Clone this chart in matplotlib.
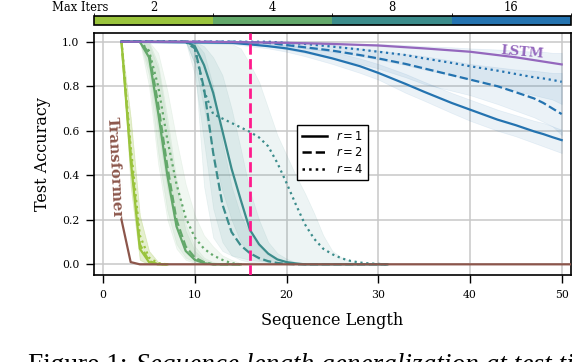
import matplotlib
matplotlib.use("Agg")
from matplotlib import pyplot as plt
from matplotlib.colors import ListedColormap, BoundaryNorm
from matplotlib.cm import ScalarMappable
from matplotlib.lines import Line2D
import numpy as np

# max iterations -> colour
max_iters = ['2', '4', '8', '16']
iter_colors = ['#9ac43c', '#63a86a', '#3b8c8b', '#2473b0']

# ---- data: (x, y, lo, hi) per (max_iters, r) ----
x_2 = [2, 3, 4, 5, 6, 7]
y_2_r1 = [1.0, 0.47, 0.07, 0.01, 0.0, 0.0]
y_2_r2 = [1.0, 0.50, 0.09, 0.015, 0.0, 0.0]
y_2_r4 = [1.0, 0.53, 0.13, 0.03, 0.005, 0.0]
lo_2 = [1.0, 0.35, 0.02, 0.0, 0.0, 0.0]
hi_2 = [1.0, 0.66, 0.22, 0.06, 0.01, 0.0]

x_4 = [2, 3, 4, 5, 6, 7, 8, 9, 10, 11, 12, 13, 14, 15]
y_4_r1 = [1.0, 1.0, 1.0, 0.93, 0.68, 0.40, 0.17, 0.06, 0.02, 0.005, 0.0, 0.0, 0.0, 0.0]
lo_4_r1 = [1.0, 1.0, 1.0, 0.80, 0.45, 0.20, 0.07, 0.02, 0.005, 0.0, 0.0, 0.0, 0.0, 0.0]
hi_4_r1 = [1.0, 1.0, 1.0, 0.99, 0.88, 0.62, 0.34, 0.15, 0.06, 0.02, 0.005, 0.0, 0.0, 0.0]
y_4_r2 = [1.0, 1.0, 1.0, 0.95, 0.72, 0.44, 0.20, 0.08, 0.03, 0.01, 0.0, 0.0, 0.0, 0.0]
lo_4_r2 = [1.0, 1.0, 1.0, 0.85, 0.50, 0.24, 0.09, 0.03, 0.01, 0.0, 0.0, 0.0, 0.0, 0.0]
hi_4_r2 = [1.0, 1.0, 1.0, 1.0, 0.90, 0.66, 0.38, 0.18, 0.08, 0.03, 0.01, 0.0, 0.0, 0.0]
y_4_r4 = [1.0, 1.0, 1.0, 0.96, 0.80, 0.56, 0.36, 0.21, 0.12, 0.07, 0.04, 0.02, 0.005, 0.0]
lo_4_r4 = [1.0, 1.0, 1.0, 0.88, 0.60, 0.34, 0.18, 0.09, 0.04, 0.02, 0.01, 0.005, 0.0, 0.0]
hi_4_r4 = [1.0, 1.0, 1.0, 1.0, 0.95, 0.78, 0.56, 0.36, 0.22, 0.13, 0.08, 0.04, 0.02, 0.005]

x_8 = [2, 9, 10, 11, 12, 13, 14, 15, 16, 17, 18, 19, 20, 21, 22, 23, 24, 25, 26, 27, 28, 29, 30, 31]
y_8_r1 = [1.0, 1.0, 0.98, 0.895, 0.77, 0.60, 0.43, 0.29, 0.155, 0.09, 0.048, 0.022, 0.01, 0.004,
          0.0, 0.0, 0.0, 0.0, 0.0, 0.0, 0.0, 0.0, 0.0, 0.0]
lo_8_r1 = [1.0, 1.0, 0.90, 0.70, 0.50, 0.33, 0.20, 0.10, 0.05, 0.02, 0.01, 0.0, 0.0, 0.0,
           0.0, 0.0, 0.0, 0.0, 0.0, 0.0, 0.0, 0.0, 0.0, 0.0]
hi_8_r1 = [1.0, 1.0, 1.0, 0.98, 0.93, 0.85, 0.70, 0.52, 0.33, 0.20, 0.10, 0.05, 0.025, 0.01,
           0.0, 0.0, 0.0, 0.0, 0.0, 0.0, 0.0, 0.0, 0.0, 0.0]
y_8_r2 = [1.0, 1.0, 0.97, 0.79, 0.50, 0.27, 0.145, 0.085, 0.05, 0.028, 0.014, 0.006, 0.002, 0.0,
          0.0, 0.0, 0.0, 0.0, 0.0, 0.0, 0.0, 0.0, 0.0, 0.0]
lo_8_r2 = [1.0, 1.0, 0.85, 0.55, 0.25, 0.10, 0.04, 0.02, 0.01, 0.005, 0.0, 0.0, 0.0, 0.0,
           0.0, 0.0, 0.0, 0.0, 0.0, 0.0, 0.0, 0.0, 0.0, 0.0]
hi_8_r2 = [1.0, 1.0, 1.0, 0.95, 0.80, 0.55, 0.35, 0.22, 0.14, 0.08, 0.04, 0.02, 0.01, 0.0,
           0.0, 0.0, 0.0, 0.0, 0.0, 0.0, 0.0, 0.0, 0.0, 0.0]
y_8_r4 = [1.0, 1.0, 0.97, 0.78, 0.675, 0.655, 0.635, 0.615, 0.595, 0.57, 0.53, 0.455, 0.365, 0.27,
          0.18, 0.115, 0.07, 0.045, 0.027, 0.015, 0.008, 0.004, 0.002, 0.0]
lo_8_r4 = [1.0, 1.0, 0.90, 0.35, 0.12, 0.06, 0.04, 0.03, 0.02, 0.015, 0.01, 0.005, 0.0, 0.0,
           0.0, 0.0, 0.0, 0.0, 0.0, 0.0, 0.0, 0.0, 0.0, 0.0]
hi_8_r4 = [1.0, 1.0, 1.0, 1.0, 1.0, 1.0, 0.99, 0.97, 0.90, 0.82, 0.70, 0.58, 0.49, 0.40,
           0.32, 0.23, 0.13, 0.06, 0.03, 0.015, 0.0, 0.0, 0.0, 0.0]

x_16 = [2, 14, 16, 18, 20, 22, 25, 28, 30, 33, 35, 38, 40, 43, 45, 47, 48, 49, 50]
y_16_r1 = [1.0, 0.995, 0.988, 0.98, 0.97, 0.955, 0.925, 0.89, 0.86, 0.81, 0.775, 0.725, 0.695,
           0.65, 0.625, 0.597, 0.585, 0.571, 0.558]
lo_16_r1 = [1.0, 0.99, 0.98, 0.97, 0.955, 0.935, 0.9, 0.86, 0.83, 0.77, 0.735, 0.68, 0.645,
            0.6, 0.575, 0.545, 0.53, 0.515, 0.50]
hi_16_r1 = [1.0, 1.0, 0.995, 0.99, 0.985, 0.975, 0.955, 0.925, 0.9, 0.855, 0.82, 0.77, 0.74,
            0.695, 0.67, 0.645, 0.635, 0.62, 0.605]
y_16_r2 = [1.0, 1.0, 0.998, 0.995, 0.985, 0.975, 0.96, 0.94, 0.925, 0.9, 0.88, 0.85, 0.83,
           0.8, 0.773, 0.745, 0.725, 0.70, 0.675]
lo_16_r2 = [1.0, 1.0, 0.99, 0.98, 0.965, 0.95, 0.925, 0.9, 0.88, 0.84, 0.81, 0.78, 0.76,
            0.72, 0.69, 0.66, 0.64, 0.62, 0.58]
hi_16_r2 = [1.0, 1.0, 1.0, 1.0, 0.995, 0.99, 0.985, 0.97, 0.96, 0.945, 0.935, 0.915, 0.9,
            0.885, 0.875, 0.87, 0.865, 0.86, 0.86]
y_16_r4 = [1.0, 1.0, 1.0, 1.0, 0.995, 0.99, 0.978, 0.965, 0.955, 0.94, 0.925, 0.905, 0.89,
           0.87, 0.855, 0.84, 0.835, 0.828, 0.82]
lo_16_r4 = [1.0, 1.0, 0.995, 0.99, 0.98, 0.97, 0.955, 0.935, 0.92, 0.895, 0.875, 0.85, 0.83,
            0.8, 0.78, 0.76, 0.75, 0.74, 0.72]
hi_16_r4 = [1.0, 1.0, 1.0, 1.0, 1.0, 1.0, 0.995, 0.99, 0.99, 0.985, 0.98, 0.975, 0.97,
            0.965, 0.96, 0.955, 0.955, 0.95, 0.95]

x_lstm = [2, 10, 15, 20, 25, 30, 35, 40, 45, 50]
y_lstm = [1.0, 1.0, 0.998, 0.995, 0.99, 0.983, 0.97, 0.955, 0.93, 0.898]

x_tf = [2, 3, 4, 10, 20, 30, 40, 50, 53]
y_tf = [0.20, 0.01, 0.0, 0.0, 0.0, 0.0, 0.0, 0.0, 0.0]

train_len = 16

runs = [
    (0, x_2, y_2_r1, lo_2, hi_2, '-'),
    (0, x_2, y_2_r2, lo_2, hi_2, '--'),
    (0, x_2, y_2_r4, lo_2, hi_2, ':'),
    (1, x_4, y_4_r1, lo_4_r1, hi_4_r1, '-'),
    (1, x_4, y_4_r2, lo_4_r2, hi_4_r2, '--'),
    (1, x_4, y_4_r4, lo_4_r4, hi_4_r4, ':'),
    (2, x_8, y_8_r1, lo_8_r1, hi_8_r1, '-'),
    (2, x_8, y_8_r2, lo_8_r2, hi_8_r2, '--'),
    (2, x_8, y_8_r4, lo_8_r4, hi_8_r4, ':'),
    (3, x_16, y_16_r1, lo_16_r1, hi_16_r1, '-'),
    (3, x_16, y_16_r2, lo_16_r2, hi_16_r2, '--'),
    (3, x_16, y_16_r4, lo_16_r4, hi_16_r4, ':'),
]

plt.rcParams['font.family'] = 'DejaVu Serif'
plt.rcParams['mathtext.fontset'] = 'dejavusans'

fig = plt.figure(figsize=(5.72, 3.62), dpi=100)
ax = fig.add_axes([0.1643, 0.2403, 0.8337, 0.6672])
cax = fig.add_axes([0.1643, 0.9296, 0.8337, 0.0251])

ax.grid(True, color='#c8c8c8', linewidth=1.1, zorder=0)
ax.set_axisbelow(True)

for ci, xs, ys, lo, hi, ls in runs:
    ax.fill_between(xs, lo, hi, color=iter_colors[ci], alpha=0.09, linewidth=0.5, zorder=1)
for ci, xs, ys, lo, hi, ls in runs:
    ax.plot(xs, ys, color=iter_colors[ci], linestyle=ls, linewidth=1.6, zorder=3)

ax.plot(x_lstm, y_lstm, color='#9467bd', linewidth=1.6, zorder=4)
ax.plot(x_tf, y_tf, color='#8c564b', linewidth=1.6, zorder=4)

ax.axvline(train_len, color='#ff1a8c', linestyle='--', linewidth=2.0, zorder=5)

ax.text(45.7, 0.954, 'LSTM', color='#9467bd', fontsize=9.5, fontweight='bold',
        rotation=-5, ha='center', va='center', zorder=6)
ax.text(1.25, 0.435, 'Transformer', color='#8c564b', fontsize=10.5, fontweight='bold',
        rotation=-87, ha='center', va='center', zorder=6)

ax.set_xlim(-1, 51)
ax.set_ylim(-0.048, 1.037)
ax.set_xticks([0, 10, 20, 30, 40, 50])
ax.set_yticks([0.0, 0.2, 0.4, 0.6, 0.8, 1.0])
ax.tick_params(labelsize=7.8, length=5.5, width=1.0, pad=5)
for sp in ax.spines.values():
    sp.set_linewidth(1.2)
ax.set_xlabel('Sequence Length', fontsize=11.5, labelpad=9)
ax.set_ylabel('Test Accuracy', fontsize=11.5, labelpad=8)

handles = [Line2D([], [], color='black', linestyle=s, linewidth=1.8) for s in ['-', '--', ':']]
leg = ax.legend(handles, ['$r = 1$', '$r = 2$', '$r = 4$'], loc='upper left',
                bbox_to_anchor=(0.4256, 0.621), borderaxespad=0.0, fancybox=False,
                framealpha=1.0, edgecolor='black',
                prop={'family': 'DejaVu Sans', 'size': 8.3}, handlelength=2.2, borderpad=0.4,
                labelspacing=0.3)
leg.get_frame().set_linewidth(1.0)

# Max Iters strip
cmap = ListedColormap(iter_colors)
norm = BoundaryNorm([0, 1, 2, 3, 4], cmap.N)
cb = fig.colorbar(ScalarMappable(norm=norm, cmap=cmap), cax=cax, orientation='horizontal')
cb.set_ticks([0.5, 1.5, 2.5, 3.5])
cb.set_ticklabels(max_iters)
cax.xaxis.set_ticks_position('top')
cax.tick_params(length=0, labelsize=8.3, pad=2)
cb.outline.set_linewidth(1.2)
fig.text(108 / 572, 1 - 7.5 / 362, 'Max Iters', fontsize=8.3, ha='right', va='center')

fig.text(28 / 572, 1 - 372 / 362, 'Figure 1: ', family='Liberation Serif', fontsize=19.6,
         va='baseline', ha='left')
fig.text(136 / 572, 1 - 372 / 362, 'Sequence length generalization at test time',
         family='Liberation Serif', style='italic', fontsize=19.6, va='baseline', ha='left')

fig.savefig('out.png', dpi=100)
